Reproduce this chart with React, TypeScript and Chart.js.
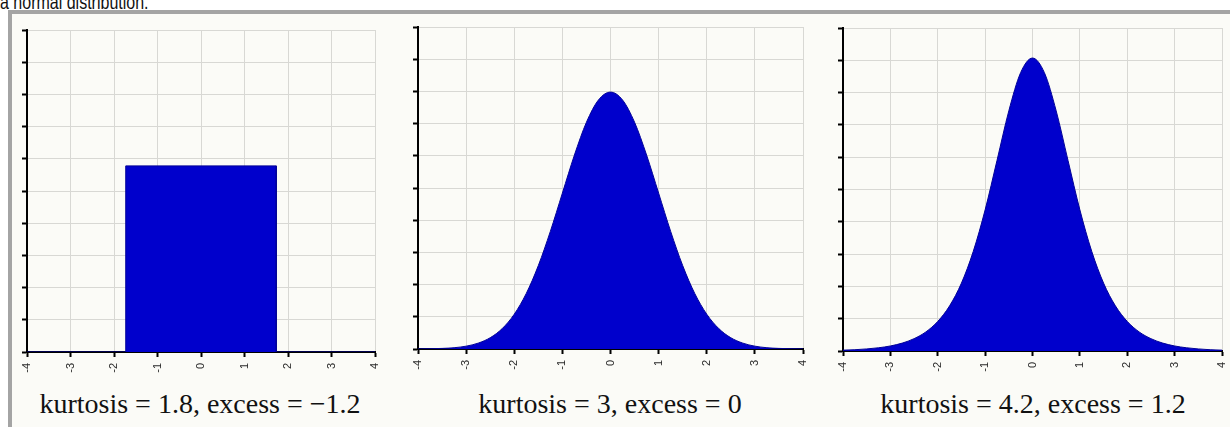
import React, { useEffect, useRef } from 'react';
import { Chart, registerables } from 'chart.js';

Chart.register(...registerables);

const headerText = 'a normal distribution.';
const captions = [
  'kurtosis = 1.8, excess = \u22121.2',
  'kurtosis = 3, excess = 0',
  'kurtosis = 4.2, excess = 1.2',
];

const xTickValues = [-4, -3, -2, -1, 0, 1, 2, 3, 4];
const xTickLabels = ['-4', '-3', '-2', '-1', '0', '1', '2', '3', '4'];
const yTickValues = [0, 0.05, 0.1, 0.15, 0.2, 0.25, 0.3, 0.35, 0.4, 0.45, 0.5];

// Panel 1: uniform distribution
const uniformX = [-4, -1.73, -1.73, 1.73, 1.73, 4];
const uniformY = [0, 0, 0.289, 0.289, 0, 0];

// Panels 2 and 3: x positions where heights were read
const curveX = [
  -4, -3.75, -3.5, -3.25, -3, -2.75, -2.5, -2.25, -2, -1.75, -1.5, -1.25, -1, -0.75, -0.5, -0.25,
  0, 0.25, 0.5, 0.75, 1, 1.25, 1.5, 1.75, 2, 2.25, 2.5, 2.75, 3, 3.25, 3.5, 3.75, 4,
];
const normalY = [
  0.0001, 0.0004, 0.0009, 0.002, 0.0044, 0.0091, 0.0175, 0.0317, 0.054, 0.0863, 0.1295, 0.1826,
  0.242, 0.3011, 0.3521, 0.3867, 0.3989, 0.3867, 0.3521, 0.3011, 0.242, 0.1826, 0.1295, 0.0863,
  0.054, 0.0317, 0.0175, 0.0091, 0.0044, 0.002, 0.0009, 0.0004, 0.0001,
];
const peakedY = [
  0.0013, 0.002, 0.0032, 0.005, 0.0078, 0.0122, 0.0191, 0.0296, 0.0458, 0.0699, 0.1051, 0.1543,
  0.2185, 0.2948, 0.3717, 0.431, 0.4535, 0.431, 0.3717, 0.2948, 0.2185, 0.1543, 0.1051, 0.0699,
  0.0458, 0.0296, 0.0191, 0.0122, 0.0078, 0.005, 0.0032, 0.002, 0.0013,
];

type PanelProps = {
  xs: number[];
  ys: number[];
  smooth: boolean;
  left: number;
  top: number;
  right: number;
  bottom: number;
};

function Panel({ xs, ys, smooth, left, top, right, bottom }: PanelProps) {
  const ref = useRef<HTMLCanvasElement>(null);
  const yW = 16;
  const padTop = 6;
  const padRight = 8;
  const xH = 30;
  const cLeft = left - yW;
  const cTop = top - padTop;
  const w = right - cLeft + padRight;
  const h = bottom - cTop + xH;

  useEffect(() => {
    if (!ref.current) return;
    const gridColor = '#d8d8d4';
    const chart = new Chart(ref.current, {
      type: 'line',
      data: {
        datasets: [
          {
            data: xs.map((x, i) => ({ x, y: ys[i] })),
            fill: 'origin',
            backgroundColor: '#0000cc',
            borderColor: '#000098',
            borderWidth: 1,
            pointRadius: 0,
            tension: smooth ? 0.4 : 0,
            cubicInterpolationMode: smooth ? 'monotone' : 'default',
          } as any,
        ],
      },
      options: {
        responsive: false,
        animation: false,
        devicePixelRatio: 1,
        layout: { padding: { left: 0, top: padTop, right: padRight, bottom: 0 } },
        plugins: {
          legend: { display: false },
          tooltip: { enabled: false },
          title: { display: false },
        },
        scales: {
          x: {
            type: 'linear',
            min: -4,
            max: 4,
            afterBuildTicks: (s: any) => {
              s.ticks = xTickValues.map((v) => ({ value: v }));
            },
            ticks: {
              minRotation: 90,
              maxRotation: 90,
              autoSkip: false,
              padding: 6,
              color: '#2a2a2a',
              font: { size: 11, family: 'Liberation Sans' },
              callback: (v: any) => {
                const i = xTickValues.indexOf(Number(v));
                return i >= 0 ? xTickLabels[i] : '';
              },
            },
            grid: { color: gridColor, lineWidth: 1, tickColor: '#000', tickLength: 5, tickWidth: 2 },
            border: { display: true, color: '#000', width: 2 },
            afterFit: (s: any) => {
              s.height = xH;
              s.paddingLeft = 0;
              s.paddingRight = 0;
            },
          } as any,
          y: {
            type: 'linear',
            min: 0,
            max: 0.5,
            afterBuildTicks: (s: any) => {
              s.ticks = yTickValues.map((v) => ({ value: v }));
            },
            ticks: { display: false },
            grid: { color: gridColor, lineWidth: 1, tickColor: '#000', tickLength: 5, tickWidth: 2 },
            border: { display: true, color: '#000', width: 2 },
            afterFit: (s: any) => {
              s.width = yW;
            },
          } as any,
        },
      },
    });
    return () => chart.destroy();
  }, []);

  return (
    <canvas
      ref={ref}
      width={w}
      height={h}
      style={{ position: 'absolute', left: cLeft, top: cTop, width: w, height: h }}
    />
  );
}

const captionCenters = [200, 610, 1033];

export default function App() {
  return (
    <div
      style={{
        position: 'fixed',
        left: 0,
        top: 0,
        width: 1230,
        height: 427,
        overflow: 'hidden',
        background: '#ffffff',
      }}
    >
      <div
        style={{
          position: 'absolute',
          left: 0,
          top: -8,
          fontFamily: 'Liberation Sans',
          fontSize: 20,
          lineHeight: '20px',
          color: '#111',
          whiteSpace: 'nowrap',
          transform: 'scaleX(0.8)',
          transformOrigin: '0 0',
        }}
      >
        {headerText}
      </div>
      <div
        style={{
          position: 'absolute',
          left: 8,
          top: 10,
          width: 1240,
          height: 440,
          borderLeft: '4px solid #a4a4a4',
          borderTop: '4px solid #a4a4a4',
          background: '#fbfbf7',
        }}
      />
      <Panel xs={uniformX} ys={uniformY} smooth={false} left={27} top={30} right={375} bottom={352} />
      <Panel xs={curveX} ys={normalY} smooth={true} left={418} top={27} right={803} bottom={349} />
      <Panel xs={curveX} ys={peakedY} smooth={true} left={843} top={28} right={1222} bottom={351} />
      {captions.map((c, i) => (
        <div
          key={i}
          style={{
            position: 'absolute',
            left: captionCenters[i] - 200,
            width: 400,
            top: 389.5,
            textAlign: 'center',
            fontFamily: 'Liberation Serif',
            fontSize: 28,
            lineHeight: '28px',
            color: '#111',
            whiteSpace: 'nowrap',
          }}
        >
          {c}
        </div>
      ))}
    </div>
  );
}
